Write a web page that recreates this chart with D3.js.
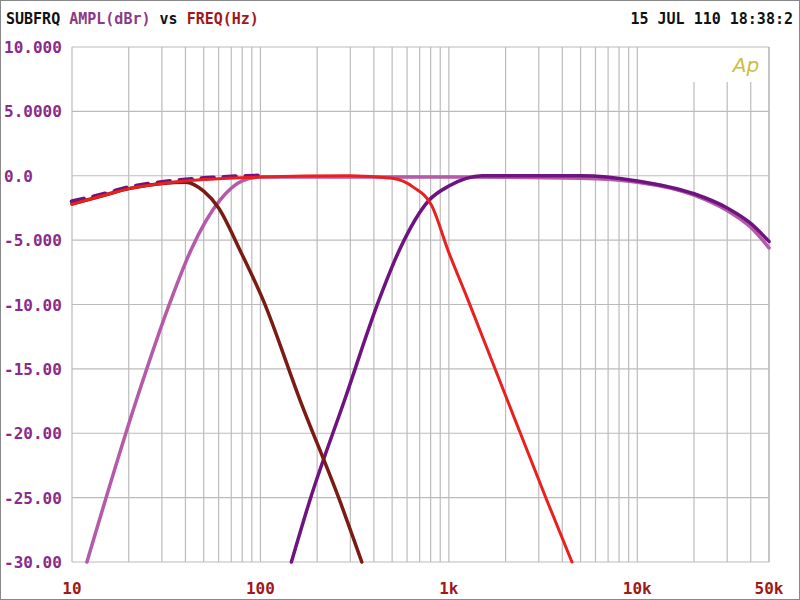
<!DOCTYPE html><html><head><script src="https://cdn.jsdelivr.net/npm/d3@7"></script>
<style>body{margin:0;background:#fff}svg{display:block}</style></head><body><svg width="800" height="600"></svg>
<script>
const xTicks=[10,100,1000,10000,50000], xLabels=["10","100","1k","10k","50k"];
const yTicks=[10,5,0,-5,-10,-15,-20,-25,-30], yLabels=["10.000","5.0000","0.0","-5.000","-10.00","-15.00","-20.00","-25.00","-30.00"];
const lowpassDark=[[10,-2.2],[15,-1.5],[20,-1.0],[30,-0.6],[40,-0.5],[50,-1.2],[60,-2.5],[78,-5.8],[103,-9.6],[162,-17.4],[263,-25.2],[345,-30]];
const highpassLight=[[12,-30],[22,-17.4],[33.6,-9.6],[42.7,-5.8],[61,-1.9],[80,-0.4],[100,-0.1],[1000,-0.1],[5000,-0.2],[10000,-0.5],[20000,-1.5],[30000,-2.7],[40000,-4],[50000,-5.6]];
const bandRed=[[10,-2.2],[15,-1.5],[20,-1.0],[30,-0.6],[50,-0.3],[100,-0.1],[300,0],[500,-0.2],[650,-0.9],[810,-2.3],[990,-5.8],[1260,-9.6],[2040,-17.4],[3310,-25.2],[4500,-30]];
const highpassPurple=[[146,-30],[183,-25.2],[280,-17.4],[427,-9.6],[545,-5.8],[785,-1.9],[1000,-0.8],[1500,0],[5000,0],[10000,-0.4],[20000,-1.4],[30000,-2.5],[40000,-3.7],[50000,-5.1]];
const lowPurple=[[10,-2.0],[15,-1.4],[20,-0.9],[30,-0.5],[50,-0.2],[100,0]];
const svg=d3.select("svg");
svg.append("rect").attr("x",0.5).attr("y",0.5).attr("width",799).attr("height",599).attr("fill","#fff").attr("stroke","#888");
const x=d3.scaleLog().domain([10,50000]).range([72,769]);
const y=d3.scaleLinear().domain([-30,10]).range([562,47]);
const g=svg.append("g");
const minor=[];for(let d=10;d<50000;d*=10)for(let k=1;k<10;k++){const f=d*k;if(f<=50000)minor.push(f);}
minor.push(50000);
g.selectAll(".v").data(minor).join("line").attr("x1",d=>x(d)).attr("x2",d=>x(d))
 .attr("y1",d=>(d>=20000&&d<50000)?82:47).attr("y2",562).attr("stroke","#bbb").attr("stroke-width",1.2);
g.selectAll(".h").data(yTicks).join("line").attr("x1",72).attr("x2",769).attr("y1",d=>y(d)).attr("y2",d=>y(d)).attr("stroke","#bbb").attr("stroke-width",1.2);
svg.append("g").selectAll("text").data(yTicks).join("text").attr("x",4).attr("y",d=>y(d)+6).text((d,i)=>yLabels[i])
 .attr("font-family","DejaVu Sans Mono").attr("font-weight","bold").attr("font-size",16).attr("fill","#8a2a8a");
svg.append("g").selectAll("text").data(xTicks).join("text").attr("x",d=>x(d)).attr("y",594).attr("text-anchor","middle").text((d,i)=>xLabels[i])
 .attr("font-family","DejaVu Sans Mono").attr("font-weight","bold").attr("font-size",16).attr("fill","#a01818");
const t=svg.append("text").attr("x",6).attr("y",24).attr("font-family","DejaVu Sans Mono").attr("font-size",15).attr("font-weight","bold");
t.append("tspan").text("SUBFRQ ").attr("fill","#111");
t.append("tspan").text("AMPL(dBr) ").attr("fill","#8a3a8a");
t.append("tspan").text("vs ").attr("fill","#111");
t.append("tspan").text("FREQ(Hz)").attr("fill","#a01818");
svg.append("text").attr("x",793).attr("y",24).attr("text-anchor","end").attr("font-family","DejaVu Sans Mono").attr("font-weight","bold").attr("font-size",15).attr("fill","#111").text("15 JUL 110 18:38:2");
svg.append("text").attr("x",746).attr("y",72).attr("text-anchor","middle").attr("font-family","DejaVu Sans").attr("font-style","italic").attr("font-size",20).attr("fill","#c8c040").text("Ap");
const line=d3.line().x(d=>x(d[0])).y(d=>y(d[1])).curve(d3.curveMonotoneX);
const lg=svg.append("g").attr("fill","none").attr("stroke-linecap","round");
lg.append("path").datum(highpassLight).attr("d",line).attr("stroke","#b55aa8").attr("stroke-width",3.5);
lg.append("path").datum(lowPurple).attr("d",line).attr("stroke","#6e1480").attr("stroke-width",4.5).attr("stroke-dasharray","12 10");
lg.append("path").datum(highpassPurple).attr("d",line).attr("stroke","#6e1480").attr("stroke-width",3.5);
lg.append("path").datum(lowpassDark).attr("d",line).attr("stroke","#7a1c14").attr("stroke-width",3.5);
lg.append("path").datum(bandRed).attr("d",line).attr("stroke","#e82020").attr("stroke-width",3);
</script></body></html>
